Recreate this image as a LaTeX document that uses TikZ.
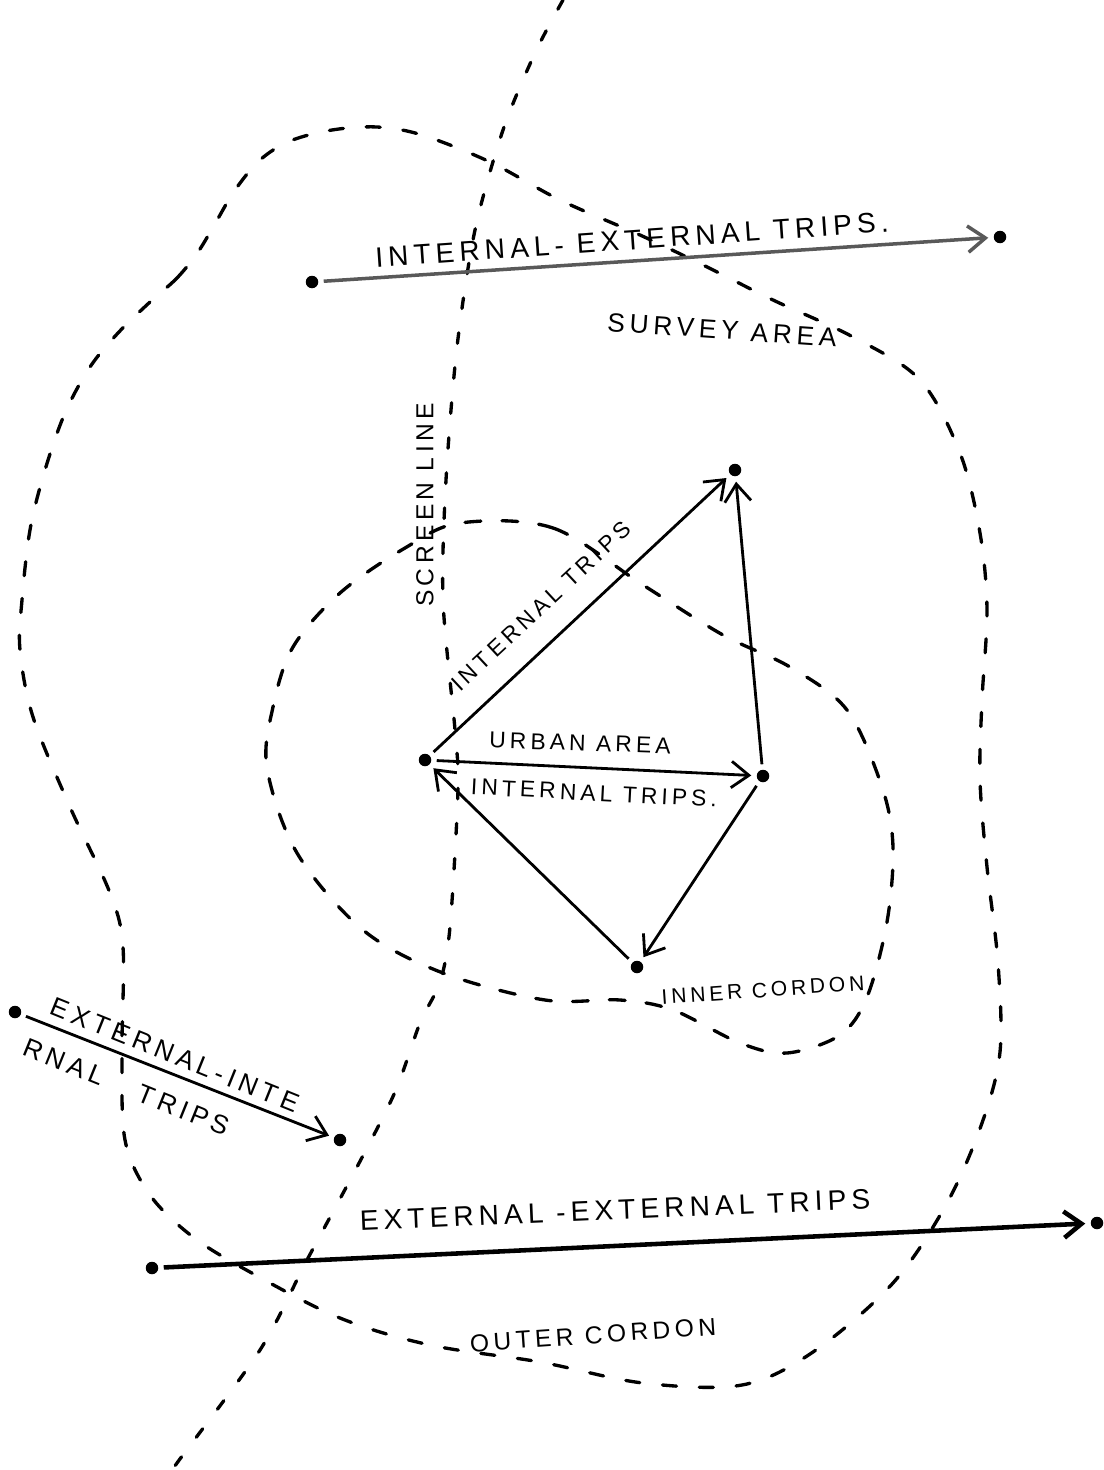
\documentclass[tikz,border=0pt]{standalone}
\usepackage{fontspec}
\newfontfamily\handfont[LetterSpace=18]{Liberation Sans}
\usetikzlibrary{arrows.meta,calc}

\begin{document}
\begin{tikzpicture}[x=0.02cm,y=-0.02cm,
    dot/.style={circle,fill,inner sep=0pt,minimum size=0.25cm,outer sep=0.11cm},
    trip/.style={-{Straight Barb[length=10pt,width=15pt]},line width=1.6pt},
    cordon/.style={line width=1.9pt,line cap=round,dash pattern=on 8pt off 13pt},
    lbl/.style={inner sep=0pt,font=\handfont\fontsize{#1}{#1}\selectfont},
    lbl/.default=15]
  \useasboundingbox (0,0) rectangle (1104,1470);

  % Outer cordon (survey area)
  \draw[cordon] plot[smooth cycle,tension=0.55] coordinates {
    (150,302) (177,278) (198,252) (216,222) (235,190) (260,160) (290,141)
    (332,130) (377,127) (422,135) (490,162) (560,200) (640,235) (703,265)
    (773,300) (853,337) (920,380) (960,453) (980,533) (987,610) (982,700)
    (980,780) (987,867) (998,963) (1000,1052) (982,1123) (947,1203)
    (893,1283) (813,1352) (742,1385) (643,1383) (540,1362) (430,1345)
    (340,1318) (250,1272) (193,1237) (150,1195) (125,1140) (122,1050)
    (123,947) (110,893) (70,807) (33,717) (20,650) (22,600) (30,530)
    (45,470) (65,413) (90,367) (118,333)};

  % Inner cordon (urban area)
  \draw[cordon,dash pattern=on 9pt off 12pt] plot[smooth cycle,tension=0.55] coordinates {
    (460,523) (553,528) (643,585) (723,635) (790,667) (847,710) (882,787)
    (893,847) (887,922) (867,997) (840,1035) (787,1053) (740,1043)
    (673,1010) (620,1000) (545,1000) (443,973) (363,930) (297,853)
    (267,768) (273,707) (293,647) (340,593) (405,548)};

  % Screen line
  \draw[cordon,dash pattern=on 6pt off 14pt] plot[smooth,tension=0.5] coordinates {
    (563,0) (535,53) (503,130) (475,230) (457,347) (446,480) (443,600)
    (455,730) (458,790) (450,927) (440,982) (420,1023) (395,1092)
    (357,1167) (307,1260) (260,1350) (177,1463) (170,1475)};

  % Zone centroids
  \node[dot] (ieA) at (312,282) {};
  \node[dot] (ieB) at (1000,237) {};
  \node[dot] (urbA) at (425,760) {};
  \node[dot] (urbB) at (735,470) {};
  \node[dot] (urbC) at (763,776) {};
  \node[dot] (urbD) at (637,967) {};
  \node[dot] (eiA) at (15,1012) {};
  \node[dot] (eiB) at (340,1140) {};
  \node[dot] (eeA) at (152,1268) {};
  \node[dot] (eeB) at (1097,1223) {};

  % Trips
  \draw[trip,black!65,line width=2pt] (ieA) -- (ieB);
  \draw[trip] (urbA) -- (urbB);
  \draw[trip] (urbA) -- (urbC);
  \draw[trip] (urbC) -- (urbB);
  \draw[trip] (urbC) -- (urbD);
  \draw[trip] (urbD) -- (urbA);
  \draw[trip] (eiA) -- (eiB);
  \draw[trip,line width=2.6pt] (eeA) -- (eeB);

  % Labels
  \node[lbl=16,rotate=4] (ieText) at (632,240) {INTERNAL- EXTERNAL TRIPS.};
  \node[lbl=15,rotate=-4] (surveyText) at (722,330) {SURVEY AREA};
  \node[lbl=14,rotate=90] (screenText) at (425,505) {SCREEN LINE};
  \node[lbl=13,rotate=43] (abText) at (541,606) {INTERNAL TRIPS};
  \node[lbl=13,rotate=-2] (urbanText) at (580,743) {URBAN AREA};
  \node[lbl=13,rotate=-3] (acText) at (594,793) {INTERNAL TRIPS.};
  \node[lbl=12,rotate=4] (innerText) at (763,990) {INNER CORDON};
  \node[lbl=15,rotate=-22] (eiText) at (175,1055) {EXTERNAL-INTE};
  \node[lbl=15,rotate=-22] (eiText2) at (127,1087) {RNAL \hspace{8pt} TRIPS};
  \node[lbl=16,rotate=2.5] (eeText) at (615,1210) {EXTERNAL -EXTERNAL TRIPS};
  \node[lbl=14,rotate=4] (outerText) at (593,1335) {OUTER CORDON};
\end{tikzpicture}
\end{document}
